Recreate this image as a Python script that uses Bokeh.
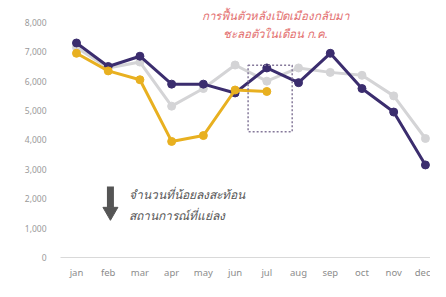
from bokeh.plotting import figure
from bokeh.models import Range1d, FixedTicker, NumeralTickFormatter, Label, BoxAnnotation
from bokeh.embed import file_html
from bokeh.resources import INLINE

months = ["jan", "feb", "mar", "apr", "may", "jun", "jul", "aug", "sep", "oct", "nov", "dec"]
gray_vals = [7150, 6450, 6650, 5150, 5750, 6550, 6000, 6450, 6300, 6200, 5500, 4050]
purple_vals = [7300, 6500, 6850, 5900, 5900, 5600, 6450, 5950, 6950, 5750, 4950, 3150]
orange_vals = [6950, 6350, 6050, 3950, 4150, 5700, 5650]
y_ticks = [0, 1000, 2000, 3000, 4000, 5000, 6000, 7000, 8000]

note_top = ["การฟื้นตัวหลังเปิดเมืองกลับมา", "ชะลอตัวในเดือน ก.ค."]
note_bottom = ["จำนวนที่น้อยลงสะท้อน", "สถานการณ์ที่แย่ลง"]

FONT = "Noto Sans"
GRAY = "#d4d4d6"
PURPLE = "#3b2d6e"
ORANGE = "#e8b020"

p = figure(width=430, height=281, output_backend="svg", toolbar_location=None,
           x_range=Range1d(0.496, 12.16), y_range=Range1d(0, 8746),
           min_border_left=60, min_border_right=0, min_border_top=0, min_border_bottom=23)
p.outline_line_color = None
p.grid.visible = False

xs = list(range(1, len(months) + 1))

p.line(xs, gray_vals, line_color=GRAY, line_width=3)
p.scatter(xs, gray_vals, size=8, fill_color=GRAY, line_color=GRAY)
p.line(xs, purple_vals, line_color=PURPLE, line_width=3)
p.scatter(xs, purple_vals, size=8, fill_color=PURPLE, line_color=PURPLE)
xo = xs[:len(orange_vals)]
p.line(xo, orange_vals, line_color=ORANGE, line_width=3)
p.scatter(xo, orange_vals, size=8, fill_color=ORANGE, line_color=ORANGE)

# axes
p.xaxis.ticker = FixedTicker(ticks=xs)
p.xaxis.major_label_overrides = {i: m for i, m in zip(xs, months)}
p.xaxis.axis_line_color = "#d9d9d9"
p.xaxis.major_tick_line_color = None
p.xaxis.minor_tick_line_color = None
p.xaxis.major_tick_out = 0
p.xaxis.minor_tick_out = 0
p.xaxis.major_label_standoff = 8
p.xaxis.major_label_text_font = FONT
p.xaxis.major_label_text_font_size = "9.5px"
p.xaxis.major_label_text_color = "#8c8c8c"

p.yaxis.ticker = FixedTicker(ticks=y_ticks)
p.yaxis.formatter = NumeralTickFormatter(format="0,0")
p.yaxis.axis_line_color = None
p.yaxis.major_tick_line_color = None
p.yaxis.minor_tick_line_color = None
p.yaxis.major_tick_out = 0
p.yaxis.minor_tick_out = 0
p.yaxis.major_label_standoff = 14
p.yaxis.major_label_text_font = FONT
p.yaxis.major_label_text_font_size = "8.5px"
p.yaxis.major_label_text_color = "#9a9a9a"

# dashed box
p.add_layout(BoxAnnotation(left=6.41, right=7.80, bottom=4282, top=6540,
                           fill_color=None, fill_alpha=0, line_color="#85799a",
                           line_alpha=1.0, line_dash="2 2", line_width=1.5))

# red note
for txt, yv in zip(note_top, [8232, 7635]):
    p.add_layout(Label(x=7.27, y=yv, text=txt, text_align="center", text_baseline="middle",
                       text_font=FONT, text_font_size="11.5px", text_font_style="italic",
                       text_color="#e36f6f"))

# down arrow
p.segment(x0=[2.07], y0=[2420], x1=[2.07], y1=[1700], line_color="#555555", line_width=7)
p.scatter(x=[2.07], y=[1560], marker="inverted_triangle", size=15,
          fill_color="#555555", line_color="#555555")

for txt, yv in zip(note_bottom, [2158, 1430]):
    p.add_layout(Label(x=2.64, y=yv, text=txt, text_align="left", text_baseline="middle",
                       text_font=FONT, text_font_size="12px", text_font_style="italic",
                       text_color="#555555"))

open("out.html", "w").write(file_html(p, INLINE))
